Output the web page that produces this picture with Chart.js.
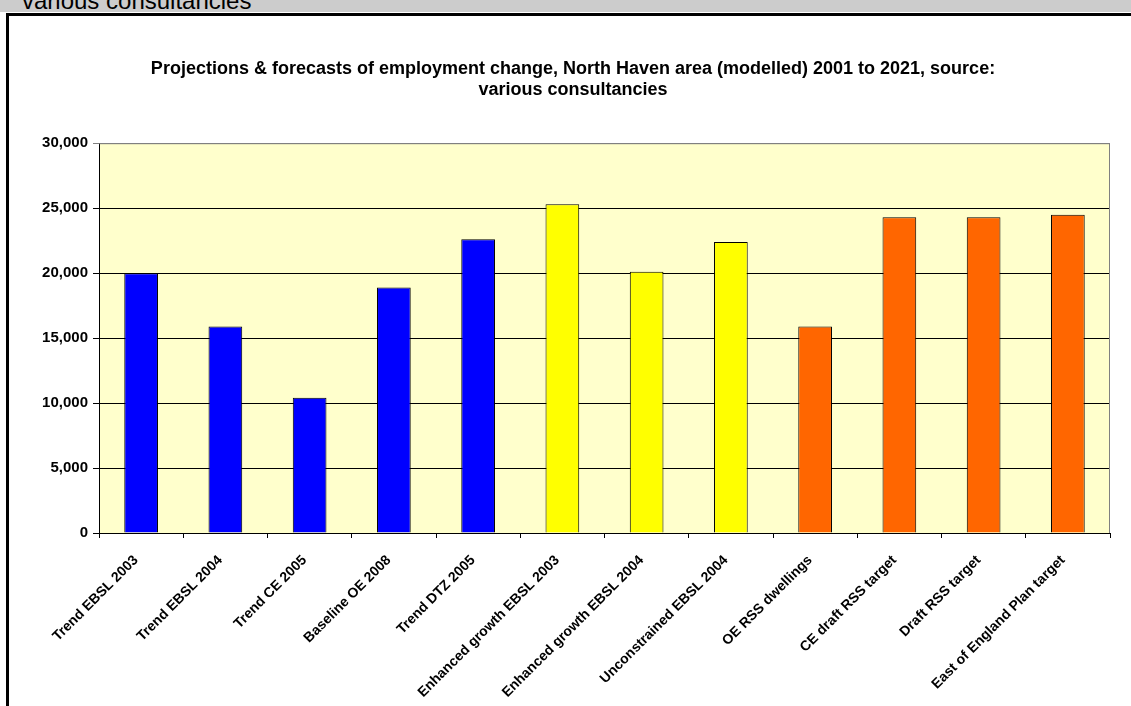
<!DOCTYPE html>
<html>
<head>
<meta charset="utf-8">
<script src="https://cdn.jsdelivr.net/npm/chart.js@4/dist/chart.umd.min.js"></script>
<style>
  body { margin: 0; width: 1131px; height: 706px; overflow: hidden; background: #fff; position: relative; font-family: Arial, "Liberation Sans", sans-serif; }
  #band { position: absolute; left: 0; top: 0; width: 1131px; height: 12px; background: #cccccc; overflow: hidden; }
  #band span { position: absolute; left: 22px; top: -11px; font-size: 24px; line-height: 24px; color: #000; white-space: nowrap; }
  #frame { position: absolute; left: 6px; top: 13px; width: 1200px; height: 800px; border-top: 3px solid #000; border-left: 3px solid #000; }
  #chartBox { position: absolute; left: 9px; top: 16px; }
</style>
</head>
<body>
<div id="band"><span>various consultancies</span></div>
<div id="frame"></div>
<div id="chartBox"><canvas id="chartJobs" width="1128" height="690"></canvas></div>
<script>
// chart data
const categories = [
    "Trend EBSL 2003", "Trend EBSL 2004", "Trend CE 2005", "Baseline OE 2008", "Trend DTZ 2005",
    "Enhanced growth EBSL 2003", "Enhanced growth EBSL 2004", "Unconstrained EBSL 2004",
    "OE RSS dwellings", "CE draft RSS target", "Draft RSS target", "East of England Plan target"
];
const jobsChange = [20000, 15900, 10400, 18900, 22600, 25300, 20100, 22400, 15900, 24300, 24300, 24500];
const titleLines = [
    "Projections & forecasts of employment change, North Haven area (modelled) 2001 to 2021, source:",
    "various consultancies"
];

// one colour per bar: trend (blue), growth scenarios (yellow), targets (orange)
const barColors = [
    "#0000ff", "#0000ff", "#0000ff", "#0000ff", "#0000ff",
    "#ffff00", "#ffff00", "#ffff00",
    "#ff6600", "#ff6600", "#ff6600", "#ff6600"
];

const fontFamily = 'Arial, "Liberation Sans", sans-serif';
Chart.defaults.color = "#000";
Chart.defaults.font.family = fontFamily;

// pale yellow plot area plus grey top/right edge
const plotFrame = {
    id: "plotFrame",
    beforeDraw(chart) {
        const { ctx, chartArea: a } = chart;
        ctx.save();
        ctx.fillStyle = "#ffffcc";
        ctx.fillRect(a.left, a.top, a.right - a.left, a.bottom - a.top);
        ctx.restore();
    },
    afterDatasetsDraw(chart) {
        const { ctx, chartArea: a } = chart;
        ctx.save();
        ctx.strokeStyle = "#808080";
        ctx.lineWidth = 1;
        ctx.beginPath();
        ctx.moveTo(a.left, a.top + 0.5);
        ctx.lineTo(a.right - 0.5, a.top + 0.5);
        ctx.lineTo(a.right - 0.5, a.bottom);
        ctx.stroke();
        ctx.restore();
    }
};

const chart = new Chart(document.getElementById("chartJobs").getContext("2d"), {
    type: "bar",
    data: {
        labels: categories,
        datasets: [{
            data: jobsChange,
            backgroundColor: barColors,
            borderColor: "#000",
            borderWidth: 1,
            barPercentage: 0.4,
            categoryPercentage: 1
        }]
    },
    options: {
        responsive: false,
        devicePixelRatio: 1,
        animation: false,
        layout: { padding: { top: 0, right: 27, bottom: 0, left: 27 } },
        plugins: {
            legend: { display: false },
            tooltip: { enabled: false },
            title: {
                display: true,
                text: titleLines,
                color: "#000",
                font: { size: 18, weight: "bold", family: fontFamily },
                lineHeight: 1.1667,
                padding: { top: 42, bottom: 42 }
            }
        },
        scales: {
            x: {
                grid: { offset: true, drawOnChartArea: false, drawTicks: true, tickLength: 5, color: "#000" },
                border: { color: "#000", width: 1 },
                ticks: {
                    autoSkip: false,
                    minRotation: 45,
                    maxRotation: 45,
                    padding: 14,
                    labelOffset: -5,
                    font: { size: 14, weight: "bold" }
                },
                afterFit(scale) { scale.height = 173; }
            },
            y: {
                min: 0,
                max: 30000,
                grid: {
                    color: ctx => ctx.tick && ctx.tick.value === 30000 ? "#808080" : "#000",
                    tickLength: 6
                },
                border: { color: "#000", width: 1 },
                ticks: {
                    stepSize: 5000,
                    padding: 5,
                    font: { size: 15, weight: "bold" },
                    callback: v => v.toLocaleString("en-GB")
                },
                afterFit(scale) { scale.width = 63; }
            }
        }
    },
    plugins: [plotFrame]
});
</script>
</body>
</html>
